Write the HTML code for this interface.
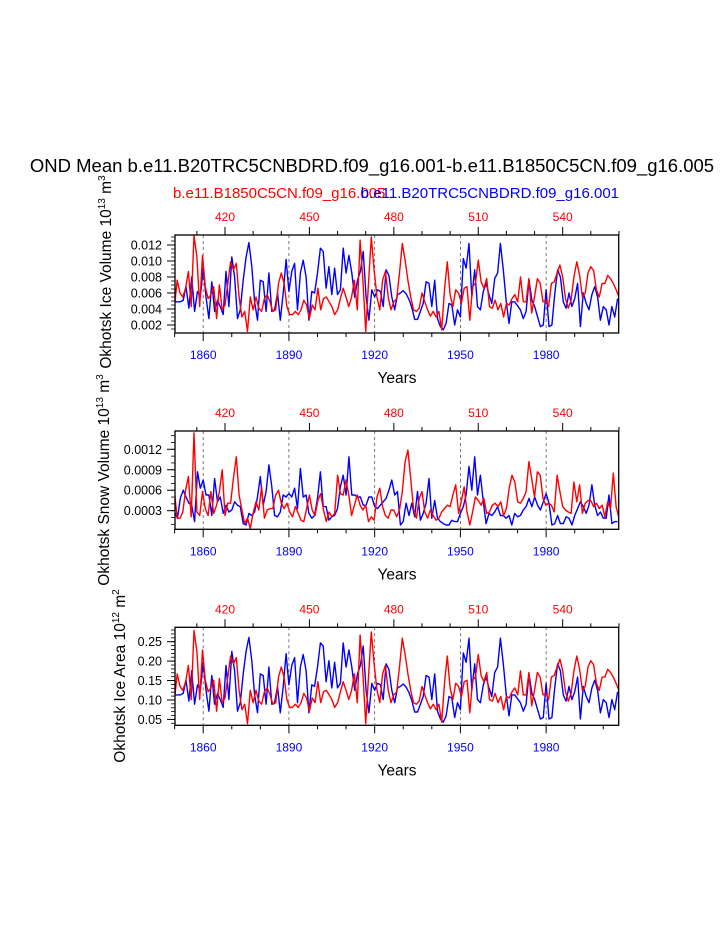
<!DOCTYPE html>
<html><head><meta charset="utf-8"><style>
html,body{margin:0;padding:0;background:#fff;}
svg{display:block;font-family:"Liberation Sans",sans-serif;}
</style></head><body>
<svg id="chart" width="723" height="935" viewBox="0 0 723 935" xmlns="http://www.w3.org/2000/svg">
<text x="372" y="172" font-size="18.5" text-anchor="middle">OND Mean b.e11.B20TRC5CNBDRD.f09_g16.001-b.e11.B1850C5CN.f09_g16.005</text>
<text x="173" y="198" font-size="15" fill="#ff0000">b.e11.B1850C5CN.f09_g16.005</text>
<text x="619" y="198" font-size="15" fill="#0000ff" text-anchor="end">b.e11.B20TRC5CNBDRD.f09_g16.001</text>
<g id="plots"></g>
</svg>
<script>
const blueYears1 = [1850,1928];
const blueYears2 = [1929,2005];
const redYears1 = [402,479];
const redYears2 = [480,560];
const bottomTicks = [1860,1890,1920,1950,1980];
const topTicks = [420,450,480,510,540];

const volBlueA = [4.9,4.9,4.9,5.1,6.8,4.1,8.0,3.7,6.2,5.5,9.1,5.5,2.8,7.4,3.7,5.1,4.3,3.3,8.7,4.3,10.5,8.0,2.8,3.9,7.6,10.5,12.3,9.3,4.9,2.6,7.6,7.4,3.7,8.5,3.7,3.9,6.0,2.6,6.0,10.2,6.2,8.7,9.7,3.9,8.5,10.1,8.0,2.6,6.2,6.0,8.5,11.6,11.2,6.6,9.3,5.8,9.1,5.8,6.4,11.6,8.5,10.7,8.5,5.5,7.6,8.7,11.2,5.5,2.6,6.4,5.5,6.4,6.2,4.3,8.9,8.2,5.5,3.9,5.8];
const volBlueB = [6.0,6.3,5.9,5.2,4.2,2.7,2.7,3.7,4.7,7.4,7.2,4.3,7.6,2.8,1.8,1.4,2.2,4.7,4.5,2.0,3.9,3.0,10.3,9.1,12.2,5.5,8.9,4.3,3.9,6.2,7.2,5.8,4.7,7.8,8.5,12.2,8.9,5.1,2.2,4.9,4.9,4.4,3.9,2.8,3.7,7.6,5.1,4.3,3.0,1.8,2.0,6.4,1.8,2.0,5.8,8.9,8.0,4.9,4.1,6.0,4.3,5.3,7.2,1.8,6.0,4.7,3.9,5.8,6.8,5.5,2.6,4.3,3.9,2.0,4.3,3.0,5.3];
const volRedA = [4.1,7.6,6.0,5.5,6.6,8.7,4.3,13.2,10.5,4.3,10.7,6.8,5.3,5.8,6.8,2.8,7.0,3.9,4.5,7.2,9.9,8.9,9.7,5.5,3.0,3.7,1.2,5.5,3.9,5.5,4.1,3.7,5.3,5.8,4.9,3.7,3.9,7.2,8.5,7.2,4.3,3.3,3.3,3.7,3.3,3.9,5.1,4.5,2.8,4.5,3.9,6.6,3.9,5.3,5.5,4.9,4.3,3.3,3.9,5.3,6.6,5.5,4.3,5.5,7.6,3.9,12.6,7.6,1.2,7.2,13.0,8.9,5.5,3.9,7.6,8.7,5.5,3.9];
const volRedB = [4.9,5.3,8.5,12.2,10.1,7.6,5.5,3.9,3.7,4.1,6.0,4.9,3.9,3.1,3.7,3.0,3.7,1.4,6.4,9.9,5.8,4.3,6.4,6.0,4.7,6.6,6.8,2.6,6.8,7.2,10.1,7.4,6.6,7.8,4.3,4.1,5.1,3.9,4.7,3.0,4.7,4.5,5.3,5.8,4.9,8.0,4.9,4.9,7.8,3.5,5.5,7.8,7.2,4.9,5.1,4.3,7.2,7.4,8.5,9.5,8.0,5.3,4.1,5.1,8.0,9.9,8.2,5.5,6.0,8.5,9.3,8.8,6.4,5.5,7.2,7.2,8.2,7.8,7.2,6.4,5.5];

const snowBlueA = [2.8,1.9,4.8,6.0,5.0,4.1,3.8,1.4,8.7,6.3,7.5,5.3,5.3,2.3,7.7,4.3,5.0,2.6,3.8,2.8,3.1,4.3,3.8,3.6,1.1,0.9,2.6,2.3,2.8,5.0,8.0,3.8,5.8,9.7,6.5,2.3,2.1,2.8,5.3,5.0,5.5,5.0,6.3,3.3,9.2,5.0,5.3,2.6,1.9,2.3,4.8,8.7,3.6,3.6,1.6,2.1,2.3,3.3,6.5,8.2,5.3,10.9,5.3,5.3,5.0,5.0,3.8,3.8,5.0,5.0,3.6,3.3,3.8,4.3,4.8,6.0,7.5,5.3,5.8];
const snowBlueB = [0.9,1.4,4.1,2.3,4.1,2.1,5.8,1.6,2.6,4.1,7.7,1.9,4.5,1.9,1.4,1.1,0.9,0.9,1.6,1.4,1.4,2.6,3.6,5.3,9.5,6.0,10.9,5.3,8.2,4.3,1.1,2.6,2.3,2.8,3.6,2.3,2.3,1.9,2.3,0.9,2.6,2.1,2.3,3.1,3.6,4.8,3.6,5.0,3.8,3.1,4.3,5.5,4.1,0.9,1.1,2.3,1.1,1.1,2.1,1.9,0.9,2.3,3.3,4.3,3.6,2.6,3.8,6.8,3.8,2.3,2.8,1.9,1.9,5.3,1.1,1.4,1.4];
const snowRedA = [6.0,1.9,1.9,2.8,6.0,8.0,2.1,14.4,2.8,2.3,5.8,3.3,2.3,5.8,2.6,3.8,5.8,9.0,2.3,4.1,4.1,7.7,10.9,5.3,3.1,1.1,1.9,0.4,2.6,4.3,3.1,6.5,1.9,3.1,3.3,3.3,5.3,6.0,4.1,3.3,4.1,2.8,2.1,3.6,2.6,1.6,1.4,3.3,5.3,3.1,2.3,4.5,5.5,3.1,1.4,2.8,2.1,2.6,8.2,5.5,5.3,7.5,5.3,2.3,3.8,5.3,3.8,3.1,3.8,1.4,2.1,1.6,5.0,6.3,3.6,2.3,1.9,3.1];
const snowRedB = [3.1,2.1,3.1,5.8,10.2,11.9,7.7,3.3,1.9,4.8,5.8,2.8,1.9,3.1,2.3,1.6,1.9,2.8,3.3,3.8,3.6,5.3,6.8,2.6,4.5,6.5,2.8,0.9,2.8,5.0,4.5,3.8,4.8,2.6,2.8,3.8,4.1,3.6,4.3,2.3,3.3,6.3,8.2,7.2,4.3,4.1,4.8,5.8,10.2,7.7,5.0,8.7,8.2,4.8,3.8,4.1,3.8,2.8,8.2,5.8,3.6,3.1,2.8,2.6,7.2,4.3,6.8,2.6,4.1,4.5,4.5,3.6,4.1,3.3,3.8,2.1,4.3,3.3,8.5,3.6,1.9];

const areaBlueA = [11.3,11.3,11.3,11.7,15.1,9.7,17.5,8.9,13.9,12.5,19.7,12.5,7.1,16.3,8.9,11.7,10.1,8.1,18.9,10.1,22.5,17.5,7.1,9.3,16.7,22.5,26.1,20.1,11.3,6.7,16.7,16.3,8.9,18.5,8.9,9.3,13.5,6.7,13.5,21.9,13.9,18.9,20.9,9.3,18.5,21.7,17.5,6.7,13.9,13.5,18.5,24.7,23.9,14.7,20.1,13.1,19.7,13.1,14.3,24.7,18.5,22.9,18.5,12.5,16.7,18.9,23.9,12.5,6.7,14.3,12.5,14.3,13.9,10.1,19.3,17.9,12.5,9.3,13.1];
const areaBlueB = [13.5,14.1,13.3,11.9,9.9,6.9,6.9,8.9,10.9,16.3,15.9,10.1,16.7,7.1,5.1,4.3,5.9,10.9,10.5,5.5,9.3,7.5,22.1,19.7,25.9,12.5,19.3,10.1,9.3,13.9,15.9,13.1,10.9,17.1,18.5,25.9,19.3,11.7,5.9,11.3,11.3,10.3,9.3,7.1,8.9,16.7,11.7,10.1,7.5,5.1,5.5,14.3,5.1,5.5,13.1,19.3,17.5,11.3,9.7,13.5,10.1,12.1,15.9,5.1,13.5,10.9,9.3,13.1,15.1,12.5,6.7,10.1,9.3,5.5,10.1,7.5,12.1];
const areaRedA = [9.7,16.7,13.5,12.5,14.7,18.9,10.1,27.9,22.5,10.1,22.9,15.1,12.1,13.1,15.1,7.1,15.5,9.3,10.5,15.9,21.3,19.3,20.9,12.5,7.5,8.9,3.9,12.5,9.3,12.5,9.7,8.9,12.1,13.1,11.3,8.9,9.3,15.9,18.5,15.9,10.1,8.1,8.1,8.9,8.1,9.3,11.7,10.5,7.1,10.5,9.3,14.7,9.3,12.1,12.5,11.3,10.1,8.1,9.3,12.1,14.7,12.5,10.1,12.5,16.7,9.3,26.7,16.7,3.9,15.9,27.5,19.3,12.5,9.3,16.7,18.9,12.5,9.3];
const areaRedB = [11.3,12.1,18.5,25.9,21.7,16.7,12.5,9.3,8.9,9.7,13.5,11.3,9.3,7.7,8.9,7.5,8.9,4.3,14.3,21.3,13.1,10.1,14.3,13.5,10.9,14.7,15.1,6.7,15.1,15.9,21.7,16.3,14.7,17.1,10.1,9.7,11.7,9.3,10.9,7.5,10.9,10.5,12.1,13.1,11.3,17.5,11.3,11.3,17.1,8.5,12.5,17.1,15.9,11.3,11.7,10.1,15.9,16.3,18.5,20.5,17.5,12.1,9.7,11.7,17.5,21.3,17.9,12.5,13.5,18.5,20.1,19.1,14.3,12.5,15.9,15.9,17.9,17.1,15.9,14.3,12.5];

const NS='http://www.w3.org/2000/svg';
const X0=175, X1=618.7;
function xBottom(yr){ return 174.6 + (yr-1850)*2.858; }
function xTop(yr){ return 225 + (yr-420)*2.814; }
function mk(tag, attrs, parent){ const e=document.createElementNS(NS,tag); for(const k in attrs) e.setAttribute(k,attrs[k]); parent.appendChild(e); return e; }

const panels = [
  {name:'ice-volume', top:235, bot:333, yOf:v=>245+(12-v)*8, yticks:[2,4,6,8,10,12], ylabels:['0.002','0.004','0.006','0.008','0.010','0.012'], minorStep:0.5, minorMin:1.5, minorMax:13, blue:[volBlueA,volBlueB], red:[volRedA,volRedB], title:['Okhotsk Ice Volume 10','13',' m','3'], titleX:111, titleCy:272},
  {name:'snow-volume', top:431, bot:529.3, yOf:v=>449.3+(12-v)*6.82, yticks:[3,6,9,12], ylabels:['0.0003','0.0006','0.0009','0.0012'], minorStep:1, minorMin:0, minorMax:14, blue:[snowBlueA,snowBlueB], red:[snowRedA,snowRedB], title:['Okhotsk Snow Volume 10','13',' m','3'], titleX:109, titleCy:480},
  {name:'ice-area', top:627.3, bot:725.3, yOf:v=>641.7+(25-v)*3.885, yticks:[5,10,15,20,25], ylabels:['0.05','0.10','0.15','0.20','0.25'], minorStep:1, minorMin:2, minorMax:28, blue:[areaBlueA,areaBlueB], red:[areaRedA,areaRedB], title:['Okhotsk Ice Area 10','12',' m','2'], titleX:125, titleCy:676}
];

const root=document.getElementById('plots');
panels.forEach(p=>{
  const g=mk('g',{},root);
  
  
  const clipId='clip-'+p.name;
  const cp=mk('clipPath',{id:clipId},g);
  mk('rect',{x:X0,y:p.top,width:X1-X0,height:p.bot-p.top},cp);
  bottomTicks.forEach(t=>{
    const l=mk('line',{x1:xBottom(t),x2:xBottom(t),y1:p.top,y2:p.bot,stroke:'#555','stroke-width':0.8,'stroke-dasharray':'3,3'},g);
    
    
  });
  const series=[['blue',p.blue,[blueYears1,blueYears2],xBottom,'#0000ff'],['red',p.red,[redYears1,redYears2],xTop,'#ff0000']];
  series.forEach(s=>{
    let pts=[];
    s[1].forEach((arr,i)=>{ const y0=s[2][i][0]; arr.forEach((v,j)=>pts.push(s[3](y0+j).toFixed(1)+','+p.yOf(v).toFixed(1))); });
    const pl=mk('polyline',{points:pts.join(' '),fill:'none',stroke:s[4],'stroke-width':1.4,'stroke-linejoin':'round','clip-path':'url(#'+clipId+')'},g);
    
    
  });
  const fr=mk('rect',{x:X0,y:p.top,width:X1-X0,height:p.bot-p.top,fill:'none',stroke:'#000','stroke-width':1.3},g);
  
  
  for(let yr=1850; yr<=2000; yr+=10){
    const major=bottomTicks.includes(yr);
    mk('line',{x1:xBottom(yr),x2:xBottom(yr),y1:p.bot,y2:p.bot+(major?8:4),stroke:'#000','stroke-width':1},g);
  }
  bottomTicks.forEach(t=>{
    const tx=mk('text',{x:xBottom(t),y:p.bot+26,'font-size':12,'text-anchor':'middle',fill:'#0000ff'},g);
    tx.textContent=t;
    
    
  });
  for(let yr=410; yr<=560; yr+=10){
    const major=topTicks.includes(yr);
    mk('line',{x1:xTop(yr),x2:xTop(yr),y1:p.top,y2:p.top-(major?8:4),stroke:'#000','stroke-width':1},g);
  }
  topTicks.forEach(t=>{
    const tx=mk('text',{x:xTop(t),y:p.top-14,'font-size':12,'text-anchor':'middle',fill:'#ff0000'},g);
    tx.textContent=t;
    
    
  });
  for(let v=p.minorMin; v<=p.minorMax+1e-6; v+=p.minorStep){
    const y=p.yOf(v); if(y<p.top-0.5||y>p.bot+0.5) continue;
    mk('line',{x1:X0,x2:X0-4,y1:y,y2:y,stroke:'#000','stroke-width':0.8},g);
  }
  p.yticks.forEach((v,i)=>{
    const y=p.yOf(v);
    mk('line',{x1:X0,x2:X0-8,y1:y,y2:y,stroke:'#000','stroke-width':1},g);
    const tx=mk('text',{x:X0-13,y:y+4.5,'font-size':12.5,'text-anchor':'end'},g);
    tx.textContent=p.ylabels[i];
    
    
  });
  const xt=mk('text',{x:397,y:p.bot+50,'font-size':15.5,'text-anchor':'middle'},g);
  xt.textContent='Years';
  
  
  const yt=mk('text',{x:0,y:0,'font-size':15.5,'text-anchor':'middle',transform:'translate('+p.titleX+','+p.titleCy+') rotate(-90)'},g);
  
  
  const parts=p.title;
  const t1=mk('tspan',{},yt); t1.textContent=parts[0];
  const t2=mk('tspan',{dy:-6,'font-size':10},yt); t2.textContent=parts[1];
  const t3=mk('tspan',{dy:6},yt); t3.textContent=parts[2];
  const t4=mk('tspan',{dy:-6,'font-size':10},yt); t4.textContent=parts[3];
});
</script>
</body></html>
